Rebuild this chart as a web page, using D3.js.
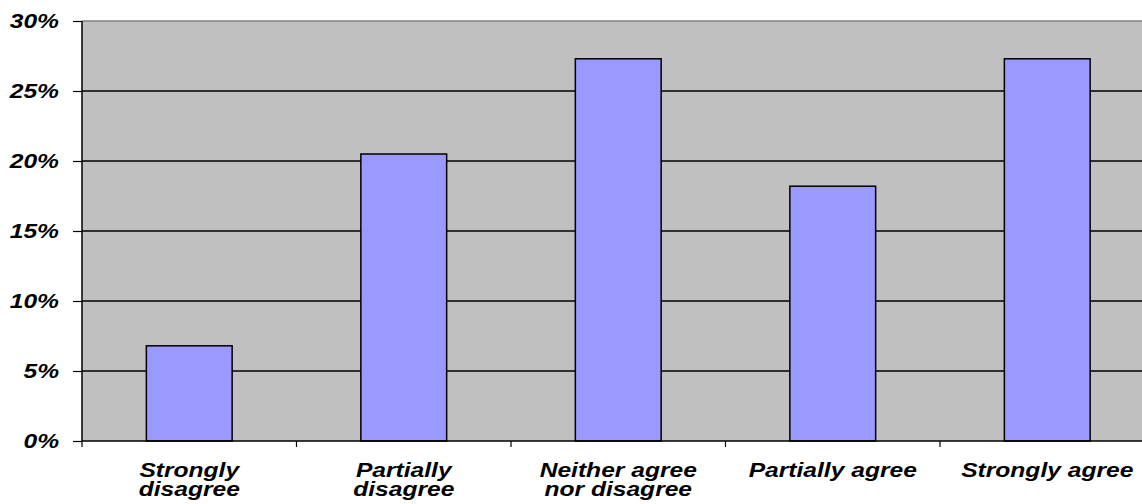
<!DOCTYPE html>
<html><head><meta charset="utf-8">
<script src="https://cdn.jsdelivr.net/npm/d3@7"></script>
<style>
html,body{margin:0;padding:0;background:#fff;}
svg{display:block;}
text{font-family:"Liberation Sans",Arial,sans-serif;font-weight:bold;font-style:italic;font-size:20px;fill:#000;}
</style></head>
<body>
<svg id="chart" width="1142" height="504"></svg>
<script>
const categories = ["Strongly disagree","Partially disagree","Neither agree nor disagree","Partially agree","Strongly agree"];
const categoryLines = [["Strongly","disagree"],["Partially","disagree"],["Neither agree","nor disagree"],["Partially agree"],["Strongly agree"]];
const values = [0.068, 0.205, 0.273, 0.182, 0.273];
const yTicks = [0, 0.05, 0.10, 0.15, 0.20, 0.25, 0.30];

(function () {
const svg = d3.select("#chart");
const pL = 82, pR = 1154.5, pT = 21, pB = 441;
const sx = 1.23;

const x = d3.scaleBand().domain(categories).range([pL, pR]).paddingInner(0.6).paddingOuter(0.3);
const y = d3.scaleLinear().domain([0, 0.30]).range([pB, pT]);

// plot background
svg.append("rect").attr("x", pL).attr("y", pT).attr("width", pR - pL).attr("height", pB - pT).attr("fill", "#C0C0C0");

// gridlines
svg.append("g").selectAll("line").data(yTicks.filter(d => d > 0 && d < 0.30)).join("line")
  .attr("x1", pL).attr("x2", pR).attr("y1", d => y(d)).attr("y2", d => y(d))
  .attr("stroke", "#000").attr("stroke-width", 1.4);
// top border
svg.append("line").attr("x1", pL).attr("x2", pR).attr("y1", y(0.30)).attr("y2", y(0.30))
  .attr("stroke", "#808080").attr("stroke-width", 1.5);

// bars
svg.append("g").selectAll("rect").data(values).join("rect")
  .attr("x", (d, i) => x(categories[i]))
  .attr("width", x.bandwidth())
  .attr("y", d => y(d))
  .attr("height", d => y(0) - y(d))
  .attr("fill", "#9999FF").attr("stroke", "#000").attr("stroke-width", 1.5);

// y axis
const yAxis = d3.axisLeft(y).tickValues(yTicks).tickFormat(d3.format(".0%")).tickSize(9).tickPadding(0);
const yg = svg.append("g").attr("transform", `translate(${pL},0)`).call(yAxis);
yg.attr("font-family", null).attr("font-size", null);
yg.select(".domain").attr("stroke", "#000").attr("stroke-width", 1.5).attr("d", `M0,${pT}V${pB}`);
yg.selectAll(".tick line").attr("stroke", "#000").attr("stroke-width", 1.2);
yg.selectAll(".tick text").attr("x", null).attr("dy", "0.34em").attr("text-anchor", "end")
  .attr("fill", "#000")
  .attr("transform", `translate(-23,0) scale(${sx},1)`);

// x axis
const step = x.step();
const bounds = d3.range(categories.length + 1).map(i => pL + i * step);
const xg = svg.append("g");
xg.append("line").attr("x1", pL).attr("x2", pR).attr("y1", pB).attr("y2", pB).attr("stroke", "#000").attr("stroke-width", 1.5);
xg.selectAll(".xt").data(bounds.filter(b => b < 1142)).join("line").attr("class", "xt")
  .attr("x1", d => d).attr("x2", d => d).attr("y1", pB).attr("y2", pB + 6)
  .attr("stroke", "#000").attr("stroke-width", 1.2);

const labels = xg.selectAll(".xl").data(categories).join("text").attr("class", "xl")
  .attr("text-anchor", "middle")
  .attr("transform", d => `translate(${x(d) + x.bandwidth() / 2},477) scale(${sx},1)`);
labels.each(function(d, i) {
  const t = d3.select(this);
  categoryLines[i].forEach((ln, j) => {
    t.append("tspan").attr("x", 0).attr("y", j * 19).text(ln);
  });
});
})();
</script>
</body></html>
